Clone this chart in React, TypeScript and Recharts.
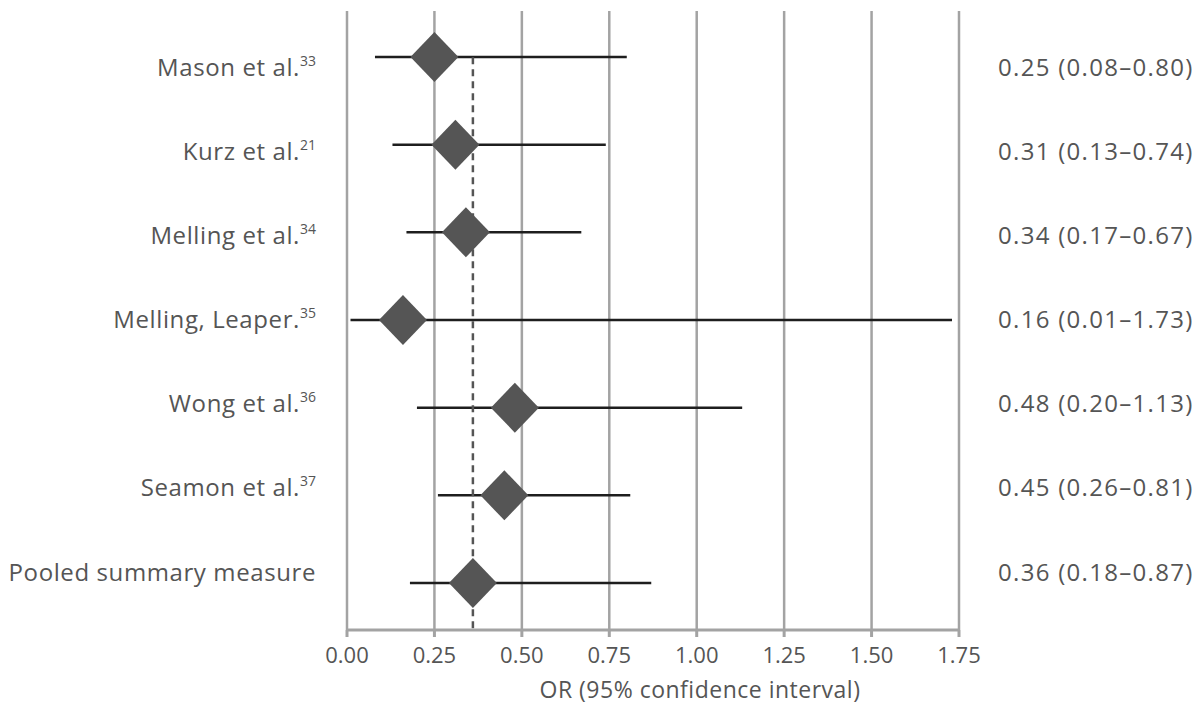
import {
  ComposedChart,
  Scatter,
  ErrorBar,
  XAxis,
  YAxis,
  CartesianGrid,
  ReferenceLine,
} from "recharts";

const studies = [
  "Mason et al.",
  "Kurz et al.",
  "Melling et al.",
  "Melling, Leaper.",
  "Wong et al.",
  "Seamon et al.",
  "Pooled summary measure",
];
const refNumbers = ["33", "21", "34", "35", "36", "37", ""];
const oddsRatios = [0.25, 0.31, 0.34, 0.16, 0.48, 0.45, 0.36];
const lowerCI = [0.08, 0.13, 0.17, 0.01, 0.2, 0.26, 0.18];
const upperCI = [0.8, 0.74, 0.67, 1.73, 1.13, 0.81, 0.87];
const xTicks = [0, 0.25, 0.5, 0.75, 1, 1.25, 1.5, 1.75];
const pooledOR = 0.36;

const rows = studies.map((name, i) => ({
  name,
  ref: refNumbers[i],
  or: oddsRatios[i],
  err: [oddsRatios[i] - lowerCI[i], upperCI[i] - oddsRatios[i]],
  text: `${oddsRatios[i].toFixed(2)} (${lowerCI[i].toFixed(2)}–${upperCI[i].toFixed(2)})`,
}));

const FONT = "'Open Sans', sans-serif";
const TEXT = "#555555";
const GRID = "#a3a3a3";

// labels in the original sit on a slightly tighter spacing than the rows
const labelShift = (i: number) => (3 - i) * 3.5 + 8;

// eslint-disable-next-line @typescript-eslint/no-explicit-any
function StudyTick({ y, payload }: any) {
  const i = payload.index;
  const ref = rows[i]?.ref;
  return (
    <text
      x={316}
      y={y + labelShift(i)}
      textAnchor="end"
      fill={TEXT}
      fontSize={24}
      letterSpacing={0.6}
      fontFamily={FONT}
    >
      {payload.value}
      {ref ? (
        <tspan fontSize={14} dy={-10} letterSpacing={0}>
          {ref}
        </tspan>
      ) : null}
    </text>
  );
}

// eslint-disable-next-line @typescript-eslint/no-explicit-any
function ResultTick({ y, payload }: any) {
  const i = payload.index;
  return (
    <text
      x={998}
      y={y + labelShift(i)}
      textAnchor="start"
      fill={TEXT}
      fontSize={24}
      letterSpacing={1.3}
      fontFamily={FONT}
    >
      {rows[i]?.text}
    </text>
  );
}

// eslint-disable-next-line @typescript-eslint/no-explicit-any
function Diamond({ cx, cy }: any) {
  const w = 24;
  const h = 25;
  return <polygon points={`${cx - w},${cy} ${cx},${cy - h} ${cx + w},${cy} ${cx},${cy + h}`} fill="#555555" />;
}

// eslint-disable-next-line @typescript-eslint/no-explicit-any
function PooledLine({ x1, y1, x2, y2 }: any) {
  const top = Math.min(y1, y2);
  const bottom = Math.max(y1, y2);
  const start = top + (bottom - top) / (2 * rows.length) + 2;
  return <line x1={x1} x2={x2} y1={start} y2={bottom} stroke="#555555" strokeWidth={2.5} strokeDasharray="7 5" />;
}

export default function App() {
  return (
    <div style={{ position: "absolute", left: 0, top: 0, background: "#fff" }}>
      <ComposedChart
        width={1203}
        height={706}
        data={rows}
        layout="vertical"
        margin={{ top: 11, right: 0, bottom: 0, left: 0 }}
      >
        <CartesianGrid horizontal={false} stroke={GRID} strokeWidth={2.5} />
        <XAxis
          type="number"
          dataKey="or"
          domain={[0, 1.75]}
          ticks={xTicks}
          tickFormatter={(v: number) => v.toFixed(2)}
          height={76}
          stroke={GRID}
          strokeWidth={3}
          tickSize={7}
          tickMargin={10}
          tick={{ fill: TEXT, fontSize: 22, fontFamily: FONT }}
          label={{
            value: "OR (95% confidence interval)",
            position: "insideBottom",
            offset: 8,
            dx: 47,
            fill: TEXT,
            fontSize: 23,
            letterSpacing: 0.5,
            fontFamily: FONT,
          }}
        />
        <YAxis
          yAxisId="left"
          type="category"
          dataKey="name"
          width={347}
          axisLine={false}
          tickLine={false}
          allowDuplicatedCategory={false}
          padding={{ top: 46, bottom: 47 }}
          tick={<StudyTick />}
        />
        <YAxis
          yAxisId="right"
          orientation="right"
          type="category"
          dataKey="name"
          width={244}
          axisLine={false}
          tickLine={false}
          allowDuplicatedCategory={false}
          padding={{ top: 46, bottom: 47 }}
          tick={<ResultTick />}
        />
        <Scatter yAxisId="left" dataKey="or" shape={<Diamond />} isAnimationActive={false} />
        <Scatter yAxisId="left" dataKey="or" shape={() => <g />} isAnimationActive={false}>
          <ErrorBar dataKey="err" direction="x" width={0} stroke="#1e1e1e" strokeWidth={2.5} />
        </Scatter>
        <ReferenceLine yAxisId="left" x={pooledOR} shape={<PooledLine />} />
      </ComposedChart>
    </div>
  );
}
